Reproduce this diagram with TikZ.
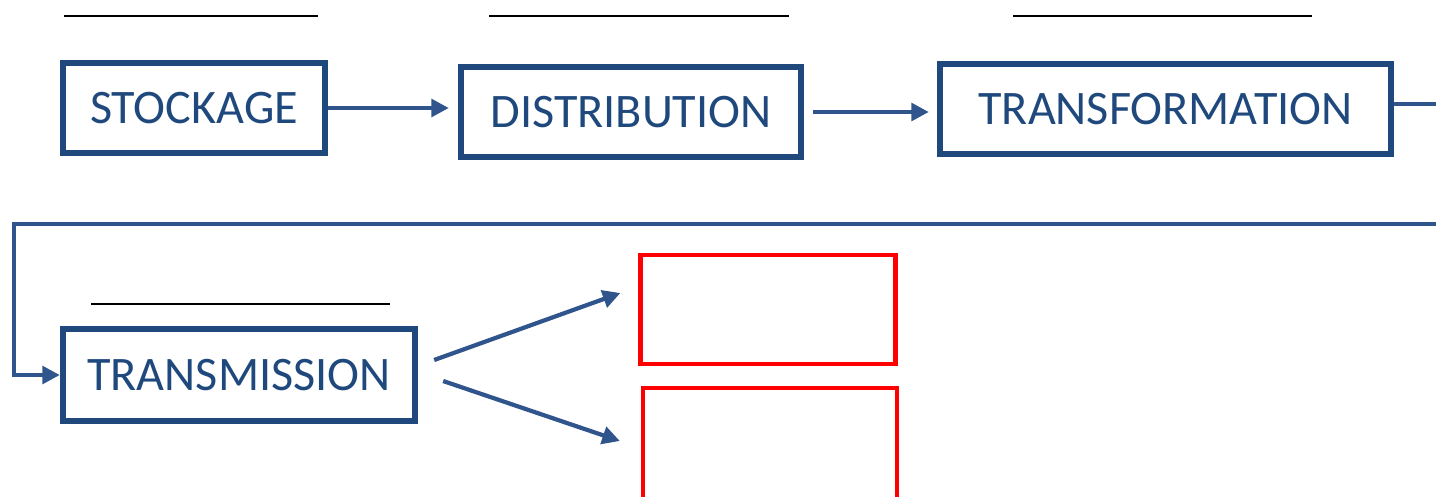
\documentclass[tikz,border=0pt]{standalone}
\usepackage{fontspec}
\setmainfont{Carlito}
\usetikzlibrary{arrows.meta}
\definecolor{boxblue}{RGB}{31,73,125}
\definecolor{linkblue}{RGB}{47,85,140}
\tikzset{
  stage/.style={draw=boxblue, line width=1.8pt, text=boxblue, inner sep=0pt,
    font=\fontsize{13.7}{16}\selectfont, minimum height=0.90cm},
  blank/.style={draw=red, line width=1.2pt, inner sep=0pt},
  link/.style={draw=linkblue, line width=1.2pt, -{Triangle[length=5pt,width=5pt]}},
  linkline/.style={draw=linkblue, line width=1.2pt},
  rule/.style={draw=black, line width=0.6pt}
}
\begin{document}
\begin{tikzpicture}
            \useasboundingbox (0,0) rectangle (14.36,-4.96);
            \node[stage, minimum width=2.62cm] (stock) at (1.94,-1.08) {STOCKAGE};
            \node[stage, minimum width=3.40cm] (distrib) at (6.31,-1.12) {DISTRIBUTION};
            \node[stage, minimum width=4.51cm] (transf) at (11.655,-1.09) {TRANSFORMATION};
            \node[stage, minimum width=3.52cm, minimum height=0.92cm] (transm) at (2.39,-3.75) {TRANSMISSION};
            \node[blank, minimum width=2.55cm, minimum height=1.09cm] (outa) at (7.68,-3.095) {};
            \node[blank, minimum width=2.54cm, minimum height=1.50cm] (outb) at (7.70,-4.63) {};
            % blank lines above the boxes
            \draw[rule] (0.64,-0.16) -- (3.18,-0.16);
            \draw[rule] (4.89,-0.16) -- (7.89,-0.16);
            \draw[rule] (10.13,-0.16) -- (13.12,-0.16);
            \draw[rule] (0.91,-3.04) -- (3.90,-3.04);
            % chain
            \draw[link, shorten >=0.09cm] (stock.east) -- (stock.east -| distrib.west);
            \draw[link, shorten <=0.09cm, shorten >=0.08cm] (distrib.east) -- (distrib.east -| transf.west);
            \coordinate (edgea) at (14.36,-1.04);
            \coordinate (edgeb) at (14.36,-2.24);
            \coordinate (turn) at (0.14,-2.24);
            \draw[linkline] (transf.east |- edgea) -- (edgea);
            \draw[link] (edgeb) -- (turn) |- (transm.west);
            \draw[link] ([shift={(0.16,0.15)}]transm.east) -- ([shift={(-0.18,0.165)}]outa.west);
            \draw[link] ([shift={(0.25,-0.06)}]transm.east) -- ([shift={(-0.21,0.22)}]outb.west);
        \end{tikzpicture}
\end{document}
